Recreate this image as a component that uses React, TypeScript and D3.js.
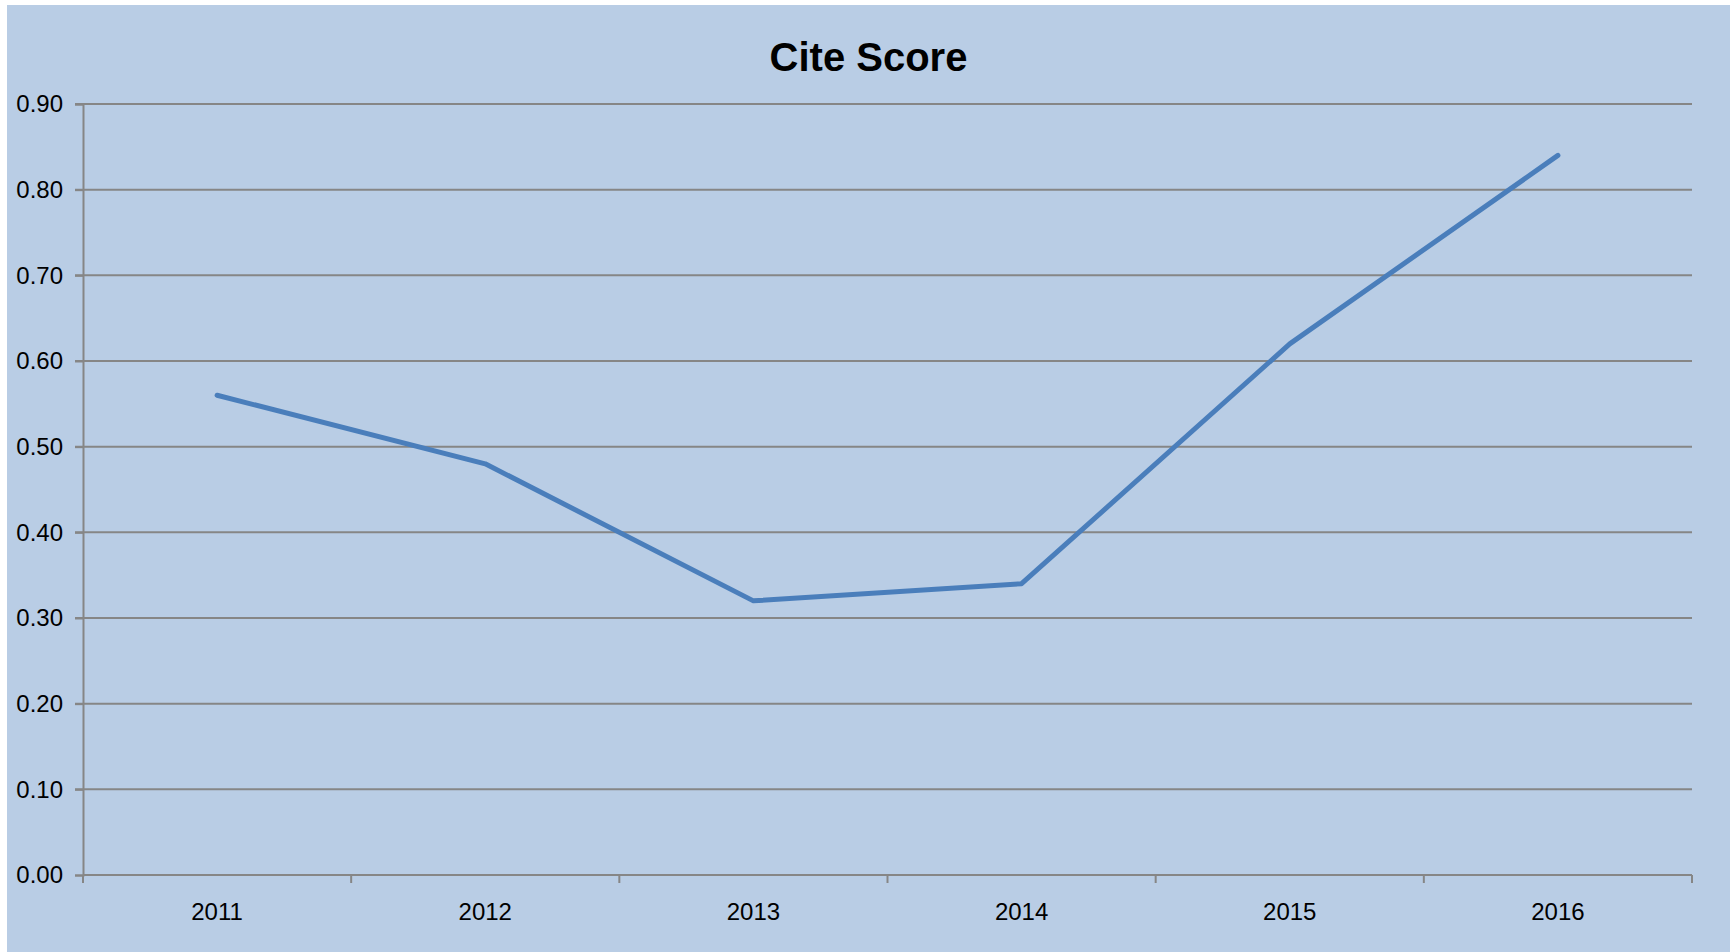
import React, { useRef, useEffect } from 'react';
import * as d3 from 'd3';

// tamanho fixo da página
const width = 1730;
const height = 952;
const margin = { top: 104, right: 38, bottom: 77, left: 83 };

const title = 'Cite Score';
const years = ['2011', '2012', '2013', '2014', '2015', '2016'];
const citeScore = [0.56, 0.48, 0.32, 0.34, 0.62, 0.84];
const yTicks = [0, 0.1, 0.2, 0.3, 0.4, 0.5, 0.6, 0.7, 0.8, 0.9];

const font = '"Liberation Sans", Arial, sans-serif';

export default function App() {
  const svgRef = useRef<SVGSVGElement | null>(null);

  useEffect(() => {
    if (!svgRef.current) return;
    const svg = d3.select(svgRef.current);
    svg.selectAll('*').remove();

    // fundo azul claro
    svg.append('rect')
      .attr('x', 7).attr('y', 5)
      .attr('width', width - 7).attr('height', height - 5)
      .attr('fill', '#B9CDE5');

    const x = d3.scaleBand<string>()
      .domain(years)
      .range([margin.left, width - margin.right])
      .paddingInner(0).paddingOuter(0);

    const y = d3.scaleLinear()
      .domain([0, 0.9])
      .range([height - margin.bottom, margin.top]);

    // linhas de grade
    svg.append('g')
      .selectAll('line')
      .data(yTicks.slice(1))
      .enter()
      .append('line')
      .attr('x1', margin.left - 8)
      .attr('x2', width - margin.right)
      .attr('y1', d => y(d))
      .attr('y2', d => y(d))
      .attr('stroke', '#868686')
      .attr('stroke-width', 2);

    // eixo Y
    const yAxis = svg.append('g')
      .attr('transform', `translate(${margin.left},0)`)
      .call(d3.axisLeft(y).tickValues(yTicks).tickFormat(d3.format('.2f')).tickSize(8).tickPadding(12));
    yAxis.select('.domain').attr('stroke', '#868686').attr('stroke-width', 2);
    yAxis.selectAll('.tick line').attr('stroke', '#868686').attr('stroke-width', 2);
    yAxis.selectAll('text')
      .attr('fill', '#000')
      .style('font-family', font)
      .style('font-size', '24px');

    // eixo X com marcas nas bordas das categorias
    const xAxis = svg.append('g')
      .attr('transform', `translate(0,${height - margin.bottom})`);
    xAxis.append('line')
      .attr('x1', margin.left).attr('x2', width - margin.right)
      .attr('stroke', '#868686').attr('stroke-width', 2);
    const edges = years.map(d => x(d) as number).concat([width - margin.right]);
    xAxis.selectAll('.edge')
      .data(edges)
      .enter()
      .append('line')
      .attr('class', 'edge')
      .attr('x1', d => d).attr('x2', d => d)
      .attr('y1', 0).attr('y2', 8)
      .attr('stroke', '#868686').attr('stroke-width', 2);
    xAxis.selectAll('text')
      .data(years)
      .enter()
      .append('text')
      .attr('x', d => (x(d) as number) + x.bandwidth() / 2)
      .attr('y', 45)
      .attr('text-anchor', 'middle')
      .style('font-family', font)
      .style('font-size', '24px')
      .attr('fill', '#000')
      .text(d => d);

    // linha da série
    const line = d3.line<number>()
      .x((d, i) => (x(years[i]) as number) + x.bandwidth() / 2)
      .y(d => y(d));

    svg.append('path')
      .datum(citeScore)
      .attr('d', line)
      .attr('fill', 'none')
      .attr('stroke', '#4A7EBB')
      .attr('stroke-width', 5)
      .attr('stroke-linecap', 'round')
      .attr('stroke-linejoin', 'round');

    // título
    svg.append('text')
      .attr('x', (7 + width) / 2)
      .attr('y', 71)
      .attr('text-anchor', 'middle')
      .style('font-family', font)
      .style('font-size', '40px')
      .style('font-weight', 'bold')
      .attr('fill', '#000')
      .text(title);
  }, []);

  return (
    <div style={{ position: 'fixed', left: 0, top: 0 }}>
      <svg ref={svgRef} width={width} height={height} style={{ display: 'block' }}></svg>
    </div>
  );
}
